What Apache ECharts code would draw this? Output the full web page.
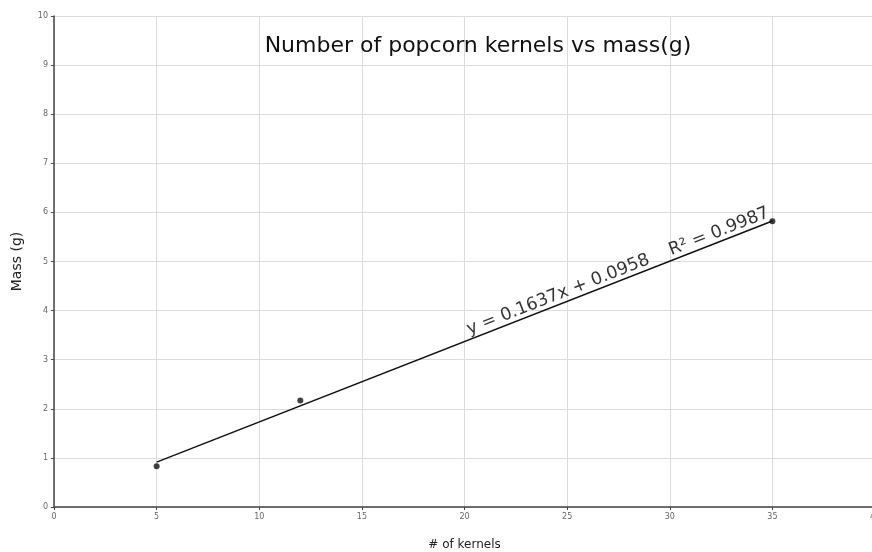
<!DOCTYPE html>
<html><head><meta charset="utf-8">
<script src="https://cdn.jsdelivr.net/npm/echarts@6/dist/echarts.min.js"></script>
<style>html,body{margin:0;padding:0;background:#fff}#c{width:872px;height:552px}</style>
</head><body><div id="c"></div>
<script>
const kernels = [5, 12, 35];
const massG = [0.83, 2.17, 5.82];
const trendX = [5, 35];
const trendY = [0.914, 5.825];
const xTicks = [0, 5, 10, 15, 20, 25, 30, 35, 40];
const yTicks = [0, 1, 2, 3, 4, 5, 6, 7, 8, 9, 10];
const eqText = 'y = 0.1637x + 0.0958    R² = 0.9987';
const eqAnchor = [27.65, 4.62];

const chart = echarts.init(document.getElementById('c'));
const font = '"DejaVu Sans", sans-serif';
chart.setOption({
  animation: false,
  backgroundColor: '#fff',
  title: { text: 'Number of popcorn kernels vs mass(g)', left: 473, top: 30, textAlign: 'center',
    textStyle: { fontFamily: font, fontSize: 22, fontWeight: 'normal', color: '#111' } },
  grid: { left: 54, width: 821, top: 16, bottom: 45, containLabel: false, outerBoundsMode: 'none' },
  xAxis: { type: 'value', min: 0, max: 40, interval: 5,
    name: '# of kernels', nameLocation: 'middle', nameGap: 32,
    nameTextStyle: { fontFamily: font, fontSize: 12, color: '#222' },
    axisLine: { show: true, lineStyle: { color: '#444', width: 1.5 } },
    axisTick: { show: true, length: 3, inside: false, lineStyle: { color: '#444' } },
    axisLabel: { fontFamily: font, fontSize: 8, color: '#666', margin: 6 },
    splitLine: { show: true, lineStyle: { color: '#dcdcdc', width: 1 } } },
  yAxis: { type: 'value', min: 0, max: 10, interval: 1,
    name: 'Mass (g)', nameLocation: 'middle', nameGap: 30, nameRotate: 90,
    nameTextStyle: { fontFamily: font, fontSize: 14, color: '#222' },
    axisLine: { show: true, lineStyle: { color: '#444', width: 1.5 } },
    axisTick: { show: true, length: 3, lineStyle: { color: '#444' } },
    axisLabel: { fontFamily: font, fontSize: 8, color: '#666', margin: 6 },
    splitLine: { show: true, lineStyle: { color: '#dcdcdc', width: 1 } } },
  series: [
    { type: 'line', data: trendX.map((x, i) => [x, trendY[i]]), symbol: 'none',
      lineStyle: { color: '#111', width: 1.5 }, z: 3 },
    { type: 'scatter', data: kernels.map((x, i) => [x, massG[i]]), symbolSize: 6,
      itemStyle: { color: '#111' }, z: 4 },
    { type: 'scatter', data: [eqAnchor], symbolSize: 0, silent: true, z: 5,
      label: { show: true, formatter: eqText, rotate: 21.4, position: 'inside', offset: [0, -9.5],
        fontFamily: font, fontSize: 17.5, color: '#000', textBorderWidth: 0 } }
  ]
});
</script></body></html>
